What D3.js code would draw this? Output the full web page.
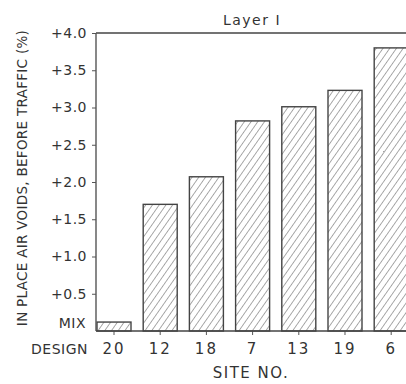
<!DOCTYPE html>
<html>
<head>
<meta charset="utf-8">
<script src="https://cdnjs.cloudflare.com/ajax/libs/d3/7.8.5/d3.min.js"></script>
<style>
  body { margin: 0; background: #fff; }
  svg text { font-family: "DejaVu Sans", sans-serif; fill: #333; }
</style>
</head>
<body>
<div id="chart"></div>
<script>
// data
var sites = ["20", "12", "18", "7", "13", "19", "6"];
var voids = [0.12, 1.70, 2.07, 2.82, 3.01, 3.23, 3.80];
var yTicks = [0.5, 1.0, 1.5, 2.0, 2.5, 3.0, 3.5, 4.0];
var yTickLabels = ["+0.5", "+1.0", "+1.5", "+2.0", "+2.5", "+3.0", "+3.5", "+4.0"];

var width = 406, height = 384;
var plotLeft = 96, plotTop = 33, plotBottom = 331;

var svg = d3.select("#chart").append("svg")
    .attr("width", width)
    .attr("height", height);

// hatch pattern
var defs = svg.append("defs");
var pat = defs.append("pattern")
    .attr("id", "hatch")
    .attr("patternUnits", "userSpaceOnUse")
    .attr("width", 5.5)
    .attr("height", 5.5)
    .attr("patternTransform", "rotate(35)");
pat.append("line")
    .attr("x1", 0).attr("y1", 0)
    .attr("x2", 0).attr("y2", 5.5)
    .attr("stroke", "#555")
    .attr("stroke-width", 1);

var y = d3.scaleLinear().domain([0, 4]).range([plotBottom, plotTop]);
var x = d3.scaleBand()
    .domain(sites)
    .range([97, 408.2])
    .paddingInner(0.264)
    .paddingOuter(0);

// bars
svg.append("g").selectAll("rect")
    .data(sites)
    .enter().append("rect")
    .attr("x", function(d) { return x(d); })
    .attr("width", x.bandwidth())
    .attr("y", function(d, i) { return y(voids[i]); })
    .attr("height", function(d, i) { return plotBottom - y(voids[i]); })
    .attr("fill", "url(#hatch)")
    .attr("stroke", "#444")
    .attr("stroke-width", 1.4);

// y axis
var yAxis = d3.axisLeft(y)
    .tickValues(yTicks)
    .tickSize(4)
    .tickPadding(5)
    .tickFormat(function(d, i) { return yTickLabels[i]; });
var gy = svg.append("g")
    .attr("transform", "translate(" + plotLeft + ",0)")
    .call(yAxis);
gy.select(".domain").remove();
gy.selectAll(".tick line").attr("stroke", "#555");
gy.selectAll(".tick text")
    .style("font-size", "14px")
    .attr("letter-spacing", "0.5px")
    .attr("fill", "#333");

// x axis
var xAxis = d3.axisBottom(x).tickSize(4).tickPadding(8);
var gx = svg.append("g")
    .attr("transform", "translate(0," + plotBottom + ")")
    .call(xAxis);
gx.select(".domain").remove();
gx.selectAll(".tick line").attr("stroke", "#555");
gx.selectAll(".tick text")
    .style("font-size", "15px")
    .attr("letter-spacing", "2px")
    .attr("fill", "#333");

// frame lines
svg.append("line")
    .attr("x1", plotLeft).attr("x2", width)
    .attr("y1", plotTop).attr("y2", plotTop)
    .attr("stroke", "#444").attr("stroke-width", 1.6);
svg.append("line")
    .attr("x1", plotLeft).attr("x2", plotLeft)
    .attr("y1", plotTop).attr("y2", plotBottom)
    .attr("stroke", "#555").attr("stroke-width", 1.4);
svg.append("line")
    .attr("x1", plotLeft).attr("x2", width)
    .attr("y1", plotBottom).attr("y2", plotBottom)
    .attr("stroke", "#444").attr("stroke-width", 1.6);

// MIX DESIGN label at zero
svg.append("text")
    .attr("x", 86).attr("y", 328)
    .attr("text-anchor", "end")
    .style("font-size", "14px")
    .attr("letter-spacing", "0.5px")
    .text("MIX");
svg.append("text")
    .attr("x", 88).attr("y", 354)
    .attr("text-anchor", "end")
    .style("font-size", "14px")
    .attr("letter-spacing", "0.5px")
    .text("DESIGN");

// titles
svg.append("text")
    .attr("x", 252).attr("y", 25)
    .attr("text-anchor", "middle")
    .style("font-size", "14px")
    .attr("letter-spacing", "1.5px")
    .text("Layer I");

svg.append("text")
    .attr("x", 251).attr("y", 378)
    .attr("text-anchor", "middle")
    .style("font-size", "15px")
    .attr("letter-spacing", "1.5px")
    .text("SITE NO.");

svg.append("text")
    .attr("transform", "translate(27,178) rotate(-90)")
    .attr("text-anchor", "middle")
    .style("font-size", "13.5px")
    .attr("letter-spacing", "0.3px")
    .text("IN PLACE AIR VOIDS, BEFORE TRAFFIC (%)");
</script>
</body>
</html>
